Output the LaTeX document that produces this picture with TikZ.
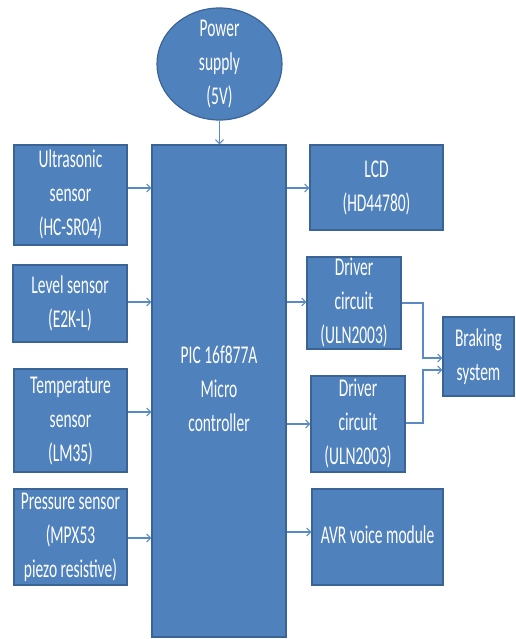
\documentclass[tikz,border=0pt]{standalone}
\usepackage{fontspec}
\setmainfont{Carlito}
\usepackage{graphicx}
\usetikzlibrary{arrows.meta,shapes.geometric}
\definecolor{boxfill}{HTML}{4F81BD}
\definecolor{boxdraw}{HTML}{3A6496}
\definecolor{arrcol}{HTML}{5A8AC6}
\newcommand{\vtxt}[1]{\scalebox{1}[1.65]{\begin{tabular}{@{}c@{}}#1\end{tabular}}}
\tikzset{
  blk/.style={draw=boxdraw, line width=1.2pt, fill=boxfill, inner sep=0pt},
  lbl/.style={text=white, inner sep=0pt, font=\fontsize{15.5}{20.5}\selectfont},
  arr/.style={draw=arrcol, line width=1.3pt, -{Straight Barb[length=4pt,width=8pt,line width=1pt]}},
  link/.style={draw=arrcol, line width=1.3pt}
}
\begin{document}
\begin{tikzpicture}[x=1pt,y=-1pt]
\useasboundingbox[fill=white] (0,0) rectangle (515,639);
\node[blk, ellipse, minimum width=125pt, minimum height=112pt, label={[lbl]center:{\vtxt{Power\\supply\\(5V)}}}] (pow) at (219.5,64) {};
\node[blk, minimum width=134pt, minimum height=492pt, label={[lbl]center:{\vtxt{PIC 16f877A\\Micro\\controller}}}] (pic) at (219,391) {};
\node[blk, minimum width=113pt, minimum height=100pt, label={[lbl]center:{\vtxt{Ultrasonic\\sensor\\(HC-SR04)}}}] (us) at (70.5,195) {};
\node[blk, minimum width=114pt, minimum height=77pt, label={[lbl]center:{\vtxt{Level sensor\\(E2K-L)}}}] (lev) at (70,303.5) {};
\node[blk, minimum width=113pt, minimum height=103pt, label={[lbl]center:{\vtxt{Temperature\\sensor\\(LM35)}}}] (tmp) at (70.5,420.5) {};
\node[blk, minimum width=113pt, minimum height=96pt, label={[lbl]center:{\vtxt{Pressure sensor\\(MPX53\\piezo resistive)}}}] (prs) at (70.5,537) {};
\node[blk, minimum width=133pt, minimum height=85pt, label={[lbl]center:{\vtxt{LCD\\(HD44780)}}}] (lcd) at (376.5,187.5) {};
\node[blk, minimum width=94pt, minimum height=92pt, label={[lbl]center:{\vtxt{Driver\\circuit\\(ULN2003)}}}] (dr1) at (354,303) {};
\node[blk, minimum width=94pt, minimum height=96pt, label={[lbl]center:{\vtxt{Driver\\circuit\\(ULN2003)}}}] (dr2) at (358,424) {};
\node[blk, minimum width=71pt, minimum height=79pt, label={[lbl]center:{\vtxt{Braking\\system}}}] (brk) at (478.5,356.5) {};
\node[blk, minimum width=131pt, minimum height=96pt, label={[lbl]center:{\vtxt{AVR voice module}}}] (avr) at (377.5,537) {};
\coordinate (j) at (423,0);
% arrows
\draw[arr] (pow.south) -- (pow.south |- pic.north);
\draw[arr] (us.east |- 0,188) -- (pic.west |- 0,188);
\draw[arr] (lev.east |- 0,302) -- (pic.west |- 0,302);
\draw[arr] (tmp.east |- 0,412) -- (pic.west |- 0,412);
\draw[arr] (prs.east |- 0,538) -- (pic.west |- 0,538);
\draw[arr] (pic.east |- 0,188) -- (lcd.west |- 0,188);
\draw[arr] (pic.east |- 0,302) -- (dr1.west |- 0,302);
\draw[arr] (pic.east |- 0,424) -- (dr2.west |- 0,424);
\draw[arr] (pic.east |- 0,532) -- (avr.west |- 0,532);
\draw[arr] (dr1.east |- 0,303) -- (j |- 0,303) -- (j |- 0,358) -- (brk.west |- 0,358);
\draw[arr] (dr2.east |- 0,423) -- (j |- 0,423) -- (j |- 0,370) -- (brk.west |- 0,370);
\end{tikzpicture}
\end{document}
